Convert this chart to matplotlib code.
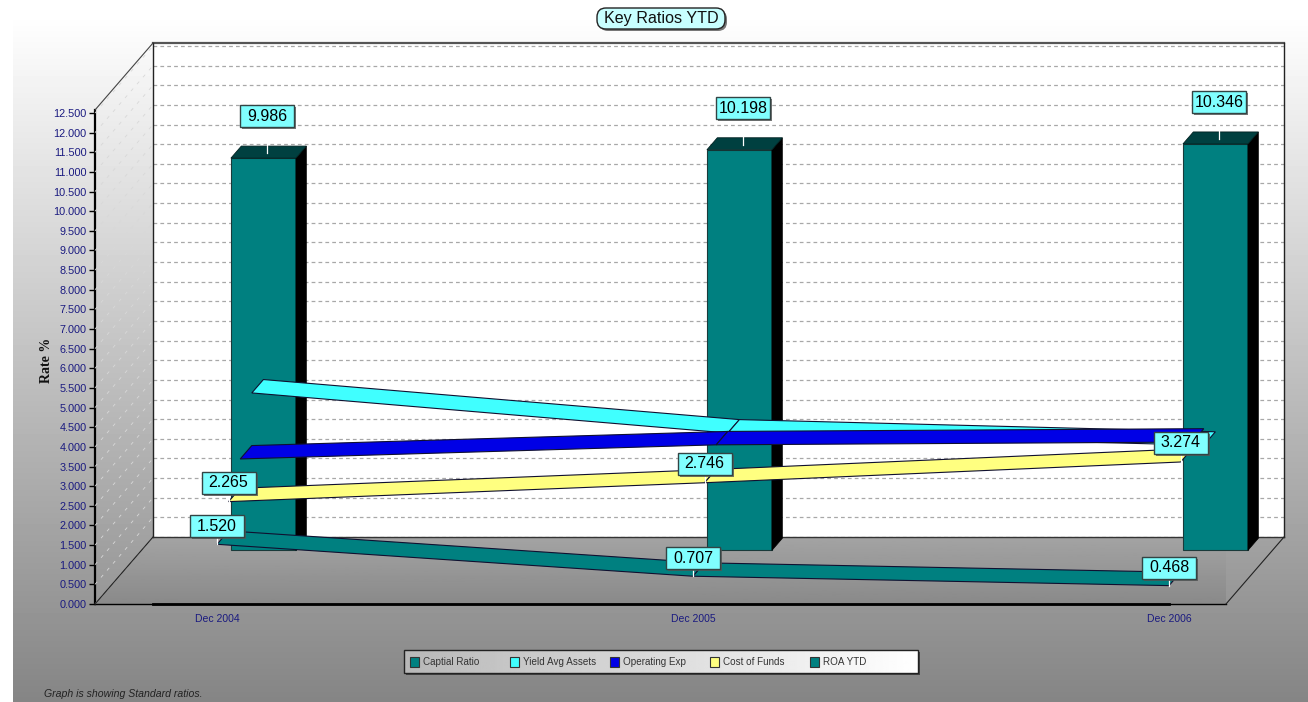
import numpy as np
import matplotlib
matplotlib.use('Agg')
import matplotlib.pyplot as plt
from matplotlib.patches import Polygon, Rectangle, FancyBboxPatch

plt.rcParams['font.family'] = ['Liberation Sans', 'DejaVu Sans']

categories = ['Dec 2004', 'Dec 2005', 'Dec 2006']
capital_ratio = [9.986, 10.198, 10.346]
yield_avg_assets = [4.35, 3.33, 3.02]  # no labels on these two, read off the ribbons
operating_exp = [3.01, 3.37, 3.44]
cost_of_funds = [2.265, 2.746, 3.274]
roa_ytd = [1.520, 0.707, 0.468]
legend_names = ['Captial Ratio', 'Yield Avg Assets', 'Operating Exp', 'Cost of Funds', 'ROA YTD']
legend_colors = ['#008080', '#40FFFF', '#0000E6', '#FFFF80', '#008080']

W, H = 1308, 702
PX_X = 476.0    # pixels per category
PX_Y = 39.28    # pixels per rate unit
DEPTH_X = 58.0  # pixels the back wall is shifted
DEPTH_Y = 67.0
NAVY = '#1A1A80'

fig = plt.figure(figsize=(W / 100, H / 100), dpi=100)

# background axes in pixel coordinates: gradient, title, legend, footnote
bg = fig.add_axes([0, 0, 1, 1])
bg.set_xlim(0, W)
bg.set_ylim(H, 0)
bg.axis('off')
grad = np.clip(255 - (np.arange(H) - 14) * 0.178, 0, 255)[:, None] / 255
bg.imshow(grad, extent=(13, W, H, 0), cmap='gray', vmin=0, vmax=1, aspect='auto')
bg.set_xlim(0, W)
bg.set_ylim(H, 0)
bg.add_patch(Rectangle((0, 0), W, 14, fc='white', ec='none', zorder=1))

# title
bg.add_patch(FancyBboxPatch((599, 10), 128, 21, boxstyle='round,pad=0,rounding_size=9',
                            fc='#777777', ec='none', zorder=2))
bg.add_patch(FancyBboxPatch((597, 8), 128, 21, boxstyle='round,pad=0,rounding_size=9',
                            fc='#C8FFFF', ec='#222222', lw=1, zorder=3))
bg.text(661, 18.5, 'Key Ratios YTD', fontsize=11.6, ha='center', va='center', color='#111111', zorder=4)

# legend
bg.add_patch(Rectangle((406, 652), 514, 23, fc='#444444', ec='none', zorder=2))
leg_grad = np.linspace(0.72, 1.0, 256)[None, :]
bg.imshow(leg_grad, extent=(404, 918, 673, 650), cmap='gray', vmin=0, vmax=1, aspect='auto', zorder=3)
bg.set_xlim(0, W)
bg.set_ylim(H, 0)
bg.add_patch(Rectangle((404, 650), 514, 23, fc='none', ec='#222222', lw=1, zorder=4))
for i, name in enumerate(legend_names):
    x0 = 410 + 100 * i
    bg.add_patch(Rectangle((x0, 657), 9, 10, fc=legend_colors[i], ec='#333333', lw=0.8, zorder=5))
    bg.text(x0 + 13, 662, name, fontsize=7.1, ha='left', va='center', color='#333333', zorder=5)

bg.text(44, 694, 'Graph is showing Standard ratios.', fontsize=7.6, style='italic',
        ha='left', va='center', color='#222222')
bg.text(47, 360, 'Rate %', fontsize=10, fontweight='bold', family=['Liberation Serif'],
        rotation=90, ha='center', va='center', color='#111111')

# chart axes: the frame is the front plane, marks go through the data scale
ax = fig.add_axes([95 / W, (H - 604) / H, (1226 - 95) / W, (604 - 110) / H])
ax.patch.set_alpha(0)
ax.set_xlim((95 - 217) / PX_X, (1226 - 217) / PX_X)
ax.set_ylim(0, 494 / PX_Y)
for s in ['top', 'right']:
    ax.spines[s].set_visible(False)
ax.spines['left'].set_linewidth(1.6)
ax.spines['bottom'].set_linewidth(1.0)
ax.set_xticks(range(len(categories)))
ax.set_xticklabels(categories)
ax.tick_params(axis='x', length=0, pad=7, labelsize=7.5, labelcolor=NAVY)
ticks = np.arange(0, 26) * 0.5
ax.set_yticks(ticks)
ax.set_yticklabels(['%.3f' % t for t in ticks])
ax.tick_params(axis='y', length=4, width=1, pad=2, labelsize=7.8, labelcolor=NAVY)

dzx = DEPTH_X / PX_X
dzy = DEPTH_Y / PX_Y
ymax = 494 / PX_Y


def proj(x, v, z):
    # category, value, depth 0..1 into the data coords of ax
    return x + z * dzx, v + z * dzy


def poly(points, **kw):
    p = Polygon([proj(*q) for q in points], closed=True, clip_on=False, **kw)
    ax.add_patch(p)
    return p


x_lo, x_hi = ax.get_xlim()

# back wall
poly([(x_lo, 0, 1), (x_hi, 0, 1), (x_hi, ymax, 1), (x_lo, ymax, 1)], fc='white', ec='none', zorder=1)
# floor with its own gradient
floor = poly([(x_lo, 0, 0), (x_hi, 0, 0), (x_hi, 0, 1), (x_lo, 0, 1)], fc='none', ec='none', zorder=2)
fl_y0 = proj(0, 0, 0)[1]
fl_y1 = proj(0, 0, 1)[1]
fl_x0 = proj(x_lo, 0, 0)[0]
fl_x1 = proj(x_hi, 0, 1)[0]
im = ax.imshow(np.linspace(0.64, 0.54, 64)[:, None], extent=(fl_x0, fl_x1, fl_y0, fl_y1), origin='upper',
               cmap='gray', vmin=0, vmax=1, aspect='auto', zorder=2, clip_on=True)
im.set_clip_path(floor)
ax.set_xlim(x_lo, x_hi)
ax.set_ylim(0, ymax)

# grid on the back and left walls
for t in ticks:
    xa, ya = proj(x_lo, t, 1)
    xb, yb = proj(x_hi, t, 1)
    ax.plot([xa, xb], [ya, yb], color='#A8A8A8', lw=0.9, ls=(0, (3, 2.5)), zorder=3, clip_on=False)
    xc, yc = proj(x_lo, t, 0)
    ax.plot([xc, xa], [yc, ya], color='#D8D8D8', lw=0.6, ls=(0, (4, 7)), zorder=3, clip_on=False)

# wall outlines
for a, b, c, lw in [((x_lo, ymax, 1), (x_hi, ymax, 1), '#555555', 1.6),
                    ((x_hi, ymax, 1), (x_hi, 0, 1), '#222222', 1.0),
                    ((x_lo, ymax, 1), (x_lo, 0, 1), '#222222', 1.0),
                    ((x_lo, 0, 1), (x_hi, 0, 1), '#333333', 1.0),
                    ((x_lo, 0, 0), (x_lo, 0, 1), '#222222', 0.8),
                    ((x_hi, 0, 0), (x_hi, 0, 1), '#222222', 0.8),
                    ((x_lo, ymax, 0), (x_lo, ymax, 1), '#444444', 0.8)]:
    pa, pb = proj(*a), proj(*b)
    ax.plot([pa[0], pb[0]], [pa[1], pb[1]], color=c, lw=lw, zorder=4, clip_on=False)
# the thick part of the base line
ax.plot([proj(x_lo, 0, 1)[0], 2], [0, 0], color='black', lw=2, zorder=4, clip_on=False)

# capital ratio bars at the back slot
half = 32.5 / PX_X
z0, z1 = 0.8, 0.98
for i, v in enumerate(capital_ratio):
    poly([(i - half, 0, z0), (i + half, 0, z0), (i + half, v, z0), (i - half, v, z0)],
         fc='#008080', ec='#1A3A3A', lw=0.8, zorder=5)
    poly([(i + half, 0, z0), (i + half, 0, z1), (i + half, v, z1), (i + half, v, z0)],
         fc='black', ec='black', lw=0.5, zorder=5)
    poly([(i - half, v, z0), (i + half, v, z0), (i + half, v, z1), (i - half, v, z1)],
         fc='#004040', ec='#002020', lw=0.6, zorder=5)


def ribbon(vals, z_front, color, zorder):
    for i in range(len(vals) - 1):
        pts = [(i, vals[i], z_front), (i + 1, vals[i + 1], z_front),
               (i + 1, vals[i + 1], z_front + 0.2), (i, vals[i], z_front + 0.2)]
        poly(pts, fc=color, ec='#101030', lw=0.8, zorder=zorder)


ribbon(yield_avg_assets, 0.6, '#40FFFF', 6)
ribbon(operating_exp, 0.4, '#0000E6', 7)
ribbon(cost_of_funds, 0.2, '#FFFF80', 8)
ribbon(roa_ytd, 0.0, '#008080', 9)


def value_label(x, v, z, up, zorder=12):
    # box sits "up" pixels above its anchor
    ax_x, ax_y = proj(x, v, z)
    bw, bh = 54 / PX_X, 22 / PX_Y
    cy = ax_y + up / PX_Y
    ax.plot([ax_x, ax_x], [ax_y, cy], color='white', lw=0.9, zorder=zorder, clip_on=False)
    ax.add_patch(Rectangle((ax_x - bw / 2 + 2 / PX_X, cy - bh / 2 - 2 / PX_Y), bw, bh, fc='#555555', ec='none',
                           alpha=0.8, zorder=zorder, clip_on=False))
    ax.add_patch(Rectangle((ax_x - bw / 2, cy - bh / 2), bw, bh, fc='#80FFFF', ec='#334444', lw=1,
                           zorder=zorder, clip_on=False))
    ax.text(ax_x, cy, '%.3f' % v, fontsize=11.5, ha='center', va='center', color='black',
            zorder=zorder, clip_on=False)


for i in range(3):
    value_label(i, capital_ratio[i], 0.87, 37)
    value_label(i, cost_of_funds[i], 0.2, 19)
    value_label(i, roa_ytd[i], 0.0, 18)

fig.savefig('out.png', dpi=100)
